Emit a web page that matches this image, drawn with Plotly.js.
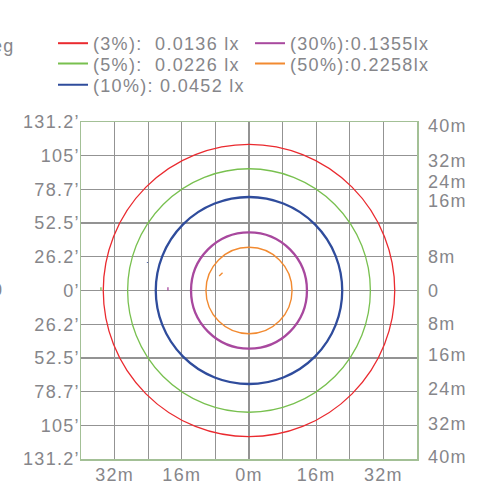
<!DOCTYPE html>
<html>
<head>
<meta charset="utf-8">
<script src="https://cdn.plot.ly/plotly-3.0.1.min.js"></script>
<style>
  html, body { margin: 0; padding: 0; background: #fff; }
  #chart { width: 477px; height: 484px; }
  text { letter-spacing: 1.3px; }
</style>
</head>
<body>
<div id="chart"></div>
<script>
// ---- data ----
const levelNames = ['(3%):\u00a0\u00a00.0136 lx', '(5%):\u00a0\u00a00.0226 lx', '(10%): 0.0452 lx', '(30%):0.1355lx', '(50%):0.2258lx'];
const levelRadius = [34.7, 28.9, 22.2, 13.8, 10.25];   // metres
const levelColors = ['#ea2a2f', '#78c04f', '#2f4c9c', '#a8489e', '#f28a30'];
const levelWidths = [1.3, 1.3, 2.3, 2.3, 1.4];

// small stray contour fragments visible in the picture
const fragX = [[-35.25, -35.25], [-24.2, -24.15], [-19.3, -19.3], [-7.1, -6.3]];
const fragY = [[0, 0.76], [6.55, 6.75], [0, 0.76], [3.44, 4.23]];
const fragColor = ['#78c04f', '#2f4c9c', '#a8489e', '#f28a30'];

const minorGridVals = [-40, -24, -8, 8, 24, 40];
const xTickVals = [-32, -16, 0, 16, 32];
const xTickText = ['32m', '16m', '0m', '16m', '32m'];
const yTickVals = [40, 32, 24, 16, 8, 0, -8, -16, -24, -32, -40];
const yTickText = ['131.2\u2019', '105\u2019', '78.7\u2019', '52.5\u2019', '26.2\u2019', '0\u2019', '26.2\u2019', '52.5\u2019', '78.7\u2019', '105\u2019', '131.2\u2019'];
const y2TickVals = [39.2, 30.9, 25.8, 21.4, 8, 0, -7.8, -15.3, -23.2, -31.5, -39.4];
const y2TickText = ['40m', '32m', '24m', '16m', '8m', '0', '8m', '16m', '24m', '32m', '40m'];

// ---- build ----
const FONT = 'Liberation Sans, Arial, Helvetica, sans-serif';
const TXT = '#86868a';
const GRID = '#939393';
const FRAME = '#a3c096';

const W = 477, H = 484;
const mL = 81, mR = 60, mT = 122, mB = 25;
const pw = W - mL - mR, ph = H - mT - mB;

// legend slot for each level (column left px, row centre px)
const legendSlotX = [53, 53, 53, 250, 250];
const legendSlotY = [43.5, 63.8, 85, 43.5, 63.8];
const legendIds = ['legend', 'legend2', 'legend3', 'legend4', 'legend5'];

const traces = [];
levelNames.forEach((nm, i) => {
  traces.push({
    type: 'scatter', mode: 'lines',
    x: [null], y: [null],
    name: nm,
    legend: legendIds[i],
    line: { color: levelColors[i], width: 2 },
    hoverinfo: 'skip'
  });
});
fragX.forEach((fx, i) => {
  traces.push({
    type: 'scatter', mode: 'lines',
    x: fx, y: fragY[i],
    showlegend: false,
    line: { color: fragColor[i], width: 1.3 },
    hoverinfo: 'skip'
  });
});
traces.push({ type: 'scatter', mode: 'lines', x: [null], y: [null], yaxis: 'y2', showlegend: false, hoverinfo: 'skip' });

const shapes = levelRadius.map((r, i) => ({
  type: 'circle', xref: 'x', yref: 'y',
  x0: -r, x1: r, y0: -r, y1: r,
  line: { color: levelColors[i], width: levelWidths[i] },
  layer: 'above'
}));

function legendCfg(xPx, yCenterPx) {
  return {
    orientation: 'h',
    xref: 'container', yref: 'container',
    x: xPx / W, xanchor: 'left',
    y: 1 - yCenterPx / H, yanchor: 'middle',
    font: { family: FONT, size: 18, color: TXT },
    bgcolor: 'rgba(0,0,0,0)', borderwidth: 0,
    itemclick: false, itemdoubleclick: false
  };
}

const layout = {
  width: W, height: H,
  margin: { l: mL, r: mR, t: mT, b: mB, pad: 0 },
  paper_bgcolor: '#ffffff', plot_bgcolor: '#ffffff',
  font: { family: FONT, size: 18, color: TXT },
  showlegend: true,
  xaxis: {
    range: [-40, 40], fixedrange: true,
    tickmode: 'array', tickvals: xTickVals, ticktext: xTickText,
    showgrid: true, gridcolor: GRID, gridwidth: 1.3,
    minor: { tickmode: 'array', tickvals: minorGridVals, showgrid: true, gridcolor: GRID, gridwidth: 1.3, ticks: '' },
    zeroline: false, showline: true, linecolor: FRAME, linewidth: 1.5, mirror: true,
    ticks: '', ticklabelstandoff: -1,
    tickfont: { family: FONT, size: 18, color: TXT }
  },
  yaxis: {
    range: [-40, 40], fixedrange: true,
    tickmode: 'array', tickvals: yTickVals, ticktext: yTickText,
    showgrid: true, gridcolor: GRID, gridwidth: 1.3,
    zeroline: false, showline: true, linecolor: FRAME, linewidth: 1.5, mirror: true,
    ticks: '', ticklabelstandoff: -4,
    tickfont: { family: FONT, size: 18, color: TXT }
  },
  yaxis2: {
    overlaying: 'y', side: 'right', range: [-40, 40], fixedrange: true,
    tickmode: 'array', tickvals: y2TickVals, ticktext: y2TickText,
    showgrid: false, zeroline: false, showline: false,
    ticks: '', ticklabelstandoff: 10,
    tickfont: { family: FONT, size: 18, color: TXT }
  },
  shapes: shapes,
  annotations: [
    { xref: 'paper', yref: 'paper', x: (17 - mL) / pw, y: (H - mB - 46) / ph,
      xanchor: 'right', yanchor: 'middle', text: 'eg', showarrow: false,
      font: { family: FONT, size: 18, color: TXT } },
    { xref: 'paper', yref: 'paper', x: (5 - mL) / pw, y: (H - mB - 290) / ph,
      xanchor: 'right', yanchor: 'middle', text: '0', showarrow: false,
      font: { family: FONT, size: 18, color: TXT } }
  ]
};
legendIds.forEach((id, i) => { layout[id] = legendCfg(legendSlotX[i], legendSlotY[i]); });

Plotly.newPlot('chart', traces, layout, { displayModeBar: false, staticPlot: true });
</script>
</body>
</html>
